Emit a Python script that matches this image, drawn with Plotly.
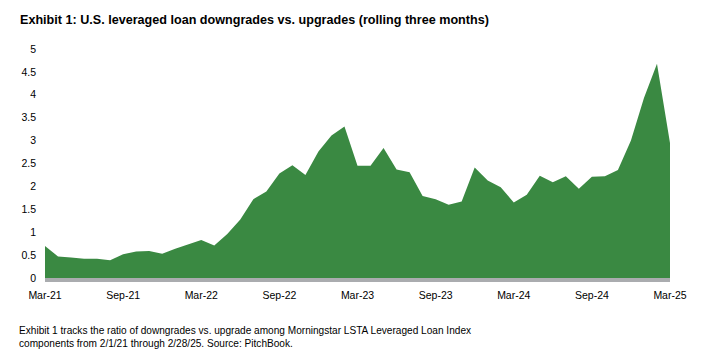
import plotly.graph_objects as go

months = []
names = ["Jan", "Feb", "Mar", "Apr", "May", "Jun", "Jul", "Aug", "Sep", "Oct", "Nov", "Dec"]
for y in range(2021, 2026):
    for m in range(12):
        if (y == 2021 and m < 2) or (y == 2025 and m > 2):
            continue
        months.append(f"{names[m]}-{str(y)[2:]}")

ratio = [0.70, 0.47, 0.45, 0.42, 0.42, 0.39, 0.52, 0.58, 0.59, 0.53,
         0.64, 0.74, 0.83, 0.71, 0.96, 1.28, 1.72, 1.89, 2.28, 2.46,
         2.25, 2.76, 3.11, 3.31, 2.45, 2.45, 2.84, 2.37, 2.31, 1.79,
         1.72, 1.60, 1.67, 2.41, 2.13, 1.98, 1.65, 1.82, 2.23, 2.09,
         2.22, 1.95, 2.21, 2.22, 2.36, 3.00, 3.93, 4.68, 2.95]

tick_labels = ["Mar-21", "Sep-21", "Mar-22", "Sep-22", "Mar-23", "Sep-23", "Mar-24", "Sep-24", "Mar-25"]
y_ticks = [0, 0.5, 1, 1.5, 2, 2.5, 3, 3.5, 4, 4.5, 5]

title = "Exhibit 1: U.S. leveraged loan downgrades vs. upgrades (rolling three months)"
note = ("Exhibit 1 tracks the ratio of downgrades vs. upgrade among Morningstar LSTA Leveraged Loan Index<br>"
        "components from 2/1/21 through 2/28/25. Source: PitchBook.")

fig = go.Figure()
fig.add_trace(go.Scatter(
    x=months, y=ratio, mode="lines", fill="tozeroy",
    line=dict(color="#3a8942", width=0), fillcolor="#3a8942",
    hoverinfo="x+y", showlegend=False,
))

fig.update_layout(
    width=721, height=360,
    margin=dict(l=45, r=51, t=49, b=82),
    paper_bgcolor="white", plot_bgcolor="white",
    font=dict(family="Liberation Sans, Arial, sans-serif", size=10.5, color="#000000"),
    xaxis=dict(
        type="category", range=[0, len(months) - 1],
        tickmode="array", tickvals=tick_labels, ticktext=tick_labels,
        showgrid=False, zeroline=False, showline=True, linecolor="#aaacaf", linewidth=4,
        ticks="", tickangle=0, ticklabelstandoff=4,
    ),
    yaxis=dict(
        range=[0, 5], tickvals=y_ticks, ticktext=[f"{v:g}" for v in y_ticks],
        showgrid=False, zeroline=False, showline=False, ticks="",
        ticklabelstandoff=8,
    ),
    annotations=[
        dict(text=f"<b>{title}</b>", xref="paper", yref="paper", x=-27/625, y=1 + 29/229,
             xanchor="left", yanchor="middle", showarrow=False,
             font=dict(family="Liberation Sans, Arial", size=12.6, color="#000")),
        dict(text=note, xref="paper", yref="paper", x=-28/625, y=-(337 - 278) / 229,
             xanchor="left", yanchor="middle", showarrow=False, align="left",
             font=dict(family="Liberation Sans, Arial", size=10.1, color="#000")),
    ],
)

fig.write_html("out.html", config={"displayModeBar": False},
               post_script="document.body.style.margin='0';")
